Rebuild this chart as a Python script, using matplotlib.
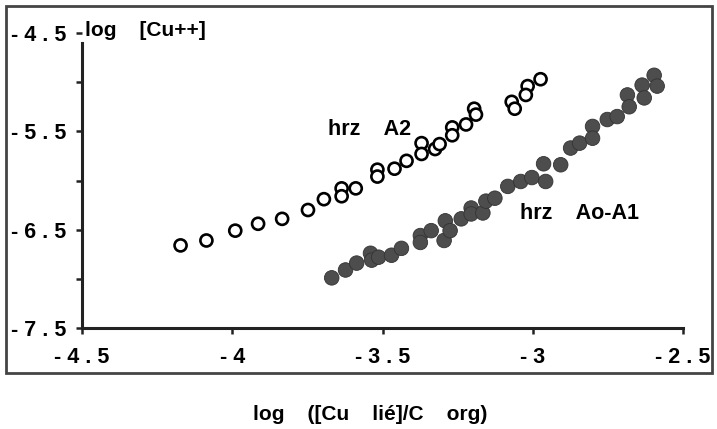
import matplotlib
matplotlib.use("Agg")
import matplotlib.pyplot as plt
import matplotlib.patheffects as pe
from matplotlib.patches import Rectangle

# horizon A2 (cercles vides)
a2_x = [-4.172, -4.086, -3.99, -3.914, -3.834, -3.748, -3.695, -3.636, -3.636,
        -3.589, -3.517, -3.517, -3.46, -3.42, -3.37, -3.37, -3.325, -3.31,
        -3.268, -3.268, -3.222, -3.195, -3.189, -3.07, -3.06, -3.017, -3.023, -2.974]
a2_y = [-6.66, -6.61, -6.51, -6.44, -6.39, -6.30, -6.19, -6.08, -6.16,
        -6.08, -5.89, -5.96, -5.88, -5.80, -5.62, -5.73, -5.68, -5.63,
        -5.46, -5.54, -5.43, -5.27, -5.33, -5.20, -5.27, -5.04, -5.13, -4.97]

# horizon Ao-A1 (cercles pleins)
a1_x = [-3.669, -3.623, -3.586, -3.54, -3.536, -3.513, -3.47, -3.437, -3.374,
        -3.374, -3.338, -3.291, -3.295, -3.275, -3.238, -3.205, -3.205, -3.166,
        -3.156, -3.126, -3.083, -3.04, -3.003, -2.964, -2.957, -2.907, -2.874,
        -2.844, -2.801, -2.801, -2.752, -2.719, -2.685, -2.679, -2.636, -2.629,
        -2.596, -2.586]
a1_y = [-6.99, -6.91, -6.84, -6.74, -6.81, -6.78, -6.76, -6.69, -6.56,
        -6.63, -6.51, -6.41, -6.61, -6.51, -6.39, -6.28, -6.34, -6.33,
        -6.21, -6.18, -6.06, -6.01, -5.97, -5.83, -6.01, -5.84, -5.67,
        -5.62, -5.45, -5.57, -5.38, -5.35, -5.13, -5.25, -5.03, -5.16,
        -4.93, -5.04]

x_ticks = [-4.5, -4, -3.5, -3, -2.5]
x_labels = ["- 4 . 5", "- 4", "- 3 . 5", "- 3", "- 2 . 5"]
y_ticks = [-7.5, -6.5, -5.5, -4.5]
y_labels = ["- 7 . 5", "- 6 . 5", "- 5 . 5", "- 4 . 5"]
y_minor = [-7, -6, -5]

plt.rcParams['font.family'] = ['Liberation Sans', 'DejaVu Sans']
plt.rcParams['font.weight'] = 'bold'

fig = plt.figure(figsize=(7.17, 4.29), dpi=100)
ax = fig.add_axes([82/717, 1-328/429, (683-82)/717, (328-33)/429])

halo = [pe.Stroke(linewidth=3.5, foreground='white'), pe.Normal()]
ax.scatter(a2_x, a2_y, s=75, facecolor='white', edgecolor='black',
           linewidths=1.9, path_effects=halo, zorder=3, clip_on=False)
ax.scatter(a1_x, a1_y, s=110, facecolor='#4d4d4d', edgecolor='#333333',
           linewidths=0.6, path_effects=halo, zorder=3, clip_on=False)

ax.set_xlim(-4.5, -2.5)
ax.set_ylim(-7.5, -4.5)
ax.spines['top'].set_visible(False)
ax.spines['right'].set_visible(False)
for side in ['left', 'bottom']:
    ax.spines[side].set_linewidth(2.2)
    ax.spines[side].set_color('#222222')
ax.spines['left'].set_bounds(-7.5, -4.6)

ax.set_xticks(x_ticks)
ax.set_xticklabels(x_labels)
ax.set_yticks(y_ticks)
ax.set_yticklabels(y_labels)
ax.set_yticks(y_minor, minor=True)
ax.tick_params(axis='both', which='both', direction='out', length=4, width=1.8,
               color='#222222', labelsize=15.5)
ax.tick_params(axis='x', which='major', pad=10)
ax.tick_params(axis='y', which='major', pad=7)

fig.text(85/717, 1-31/429, "log    [Cu++]", fontsize=15, fontweight='bold',
         va='center', ha='left')
ax.text(-3.68, -5.48, "hrz    A2", fontsize=15.5, fontweight='bold', va='center')
ax.text(-3.042, -6.34, "hrz    Ao-A1", fontsize=15.5, fontweight='bold', va='center')

fig.text(370/717, 1-414/429, "log    ([Cu    lié]/C    org)", fontsize=15,
         fontweight='bold', ha='center', va='center')

fig.patches.append(Rectangle((6/717, 1-373/429), (712-6)/717, (373-6)/429,
                             transform=fig.transFigure, fill=False,
                             edgecolor='#444444', linewidth=2))

fig.savefig("out.png", dpi=100)
